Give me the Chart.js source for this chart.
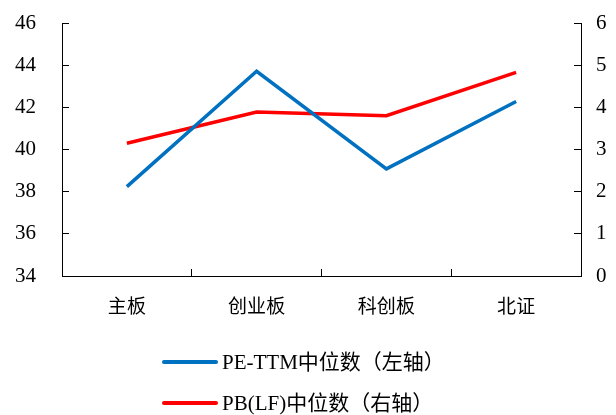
<!DOCTYPE html>
<html>
<head>
<meta charset="utf-8">
<script src="https://cdn.jsdelivr.net/npm/chart.js@4"></script>
<style>
  html, body { margin: 0; padding: 0; background: #fff; }
  #wrap { width: 616px; height: 415px; }
</style>
</head>
<body>
<div id="wrap"><canvas id="chart" width="616" height="415"></canvas></div>
<script>
// categories and values
const categories = ['主板', '创业板', '科创板', '北证'];
const peTtm = [38.24, 43.71, 39.08, 42.28];   // left axis
const pbLf = [3.15, 3.89, 3.8, 4.83];         // right axis
const peLabel = 'PE-TTM中位数（左轴）';
const pbLabel = 'PB(LF)中位数（右轴）';

const serif = '"Liberation Serif", "Noto Sans CJK SC", serif';
const cjk = '"Noto Sans CJK SC", sans-serif';

// legend drawn under the chart, two rows, left aligned
const stackedLegend = {
    id: 'stackedLegend',
    afterDraw(chart) {
        const ctx = chart.ctx;
        ctx.save();
        chart.data.datasets.forEach((ds, i) => {
            const y = 362 + i * 41;
            ctx.strokeStyle = ds.borderColor;
            ctx.lineWidth = 4;
            ctx.lineCap = 'round';
            ctx.beginPath();
            ctx.moveTo(164, y);
            ctx.lineTo(216, y);
            ctx.stroke();
            ctx.fillStyle = '#000';
            ctx.font = '21px ' + serif;
            ctx.textBaseline = 'middle';
            ctx.textAlign = 'left';
            ctx.fillText(ds.label, 222, y + 1);
        });
        ctx.restore();
    }
};

// fixed axis sizes; drop the vertical padding that tick padding adds
function fixWidth(w) {
    return (s) => {
        s.width = w;
        s.paddingTop = 0;
        s.paddingBottom = 0;
    };
}

const ctx = document.getElementById('chart').getContext('2d');
new Chart(ctx, {
    type: 'line',
    data: {
        labels: categories,
        datasets: [
            {
                label: peLabel,
                data: peTtm,
                borderColor: '#0070C0',
                backgroundColor: '#0070C0',
                borderWidth: 3.5,
                pointRadius: 0,
                tension: 0,
                yAxisID: 'y'
            },
            {
                label: pbLabel,
                data: pbLf,
                borderColor: '#FF0000',
                backgroundColor: '#FF0000',
                borderWidth: 3.5,
                pointRadius: 0,
                tension: 0,
                yAxisID: 'y1'
            }
        ]
    },
    options: {
        responsive: false,
        animation: false,
        layout: { padding: { top: 23, left: 0, right: 0, bottom: 0 } },
        plugins: {
            legend: { display: false },
            tooltip: { enabled: false }
        },
        scales: {
            x: {
                offset: true,
                grid: { offset: true, drawOnChartArea: false, tickLength: -7, color: '#000' },
                border: { color: '#000', width: 1 },
                ticks: { color: '#000', padding: 25, font: { family: cjk, size: 19 } },
                afterFit: (s) => { s.height = 139; }
            },
            y: {
                position: 'left',
                min: 34,
                max: 46,
                ticks: { stepSize: 2, color: '#000', padding: 33, font: { family: serif, size: 21 } },
                grid: { drawOnChartArea: false, tickLength: -7, color: '#000' },
                border: { color: '#000', width: 1 },
                afterFit: fixWidth(62)
            },
            y1: {
                position: 'right',
                min: 0,
                max: 6,
                ticks: { stepSize: 1, color: '#000', padding: 22, font: { family: serif, size: 21 } },
                grid: { drawOnChartArea: false, tickLength: -7, color: '#000' },
                border: { color: '#000', width: 1 },
                afterFit: fixWidth(35)
            }
        }
    },
    plugins: [stackedLegend]
});
</script>
</body>
</html>
